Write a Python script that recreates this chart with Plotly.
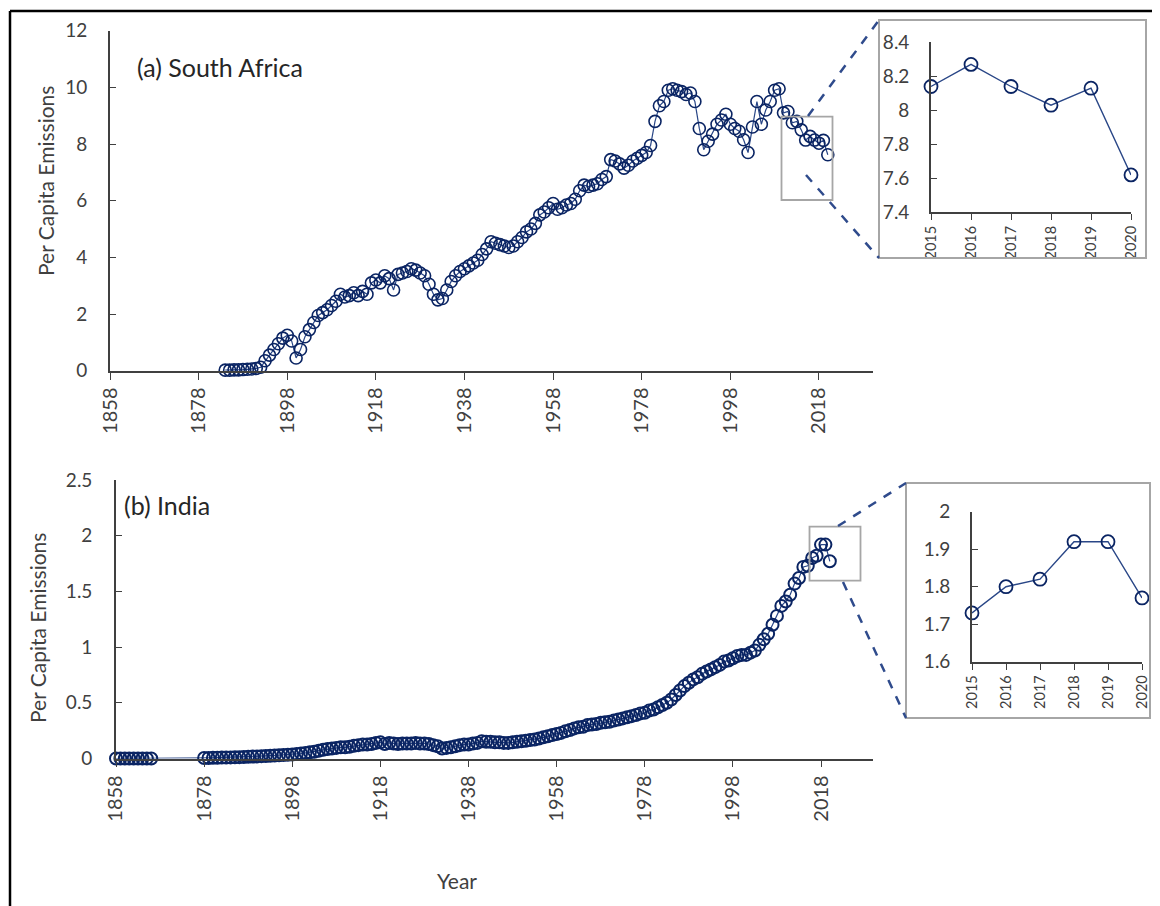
import plotly.graph_objects as go

# ---------------- data ----------------
sa_years = list(range(1884, 2021))
sa_values = [
    0.02, 0.02, 0.03, 0.03, 0.04, 0.05, 0.06, 0.08, 0.12, 0.35,   # 1884-1893
    0.55, 0.75, 0.95, 1.15, 1.25, 1.05, 0.45, 0.75, 1.20, 1.45,   # 1894-1903
    1.70, 1.95, 2.05, 2.15, 2.30, 2.45, 2.70, 2.60, 2.65, 2.75,   # 1904-1913
    2.65, 2.80, 2.70, 3.10, 3.20, 3.10, 3.35, 3.25, 2.85, 3.40,   # 1914-1923
    3.45, 3.50, 3.60, 3.55, 3.45, 3.35, 3.05, 2.70, 2.50, 2.55,   # 1924-1933
    2.85, 3.15, 3.35, 3.50, 3.60, 3.70, 3.80, 3.90, 4.10, 4.30,   # 1934-1943
    4.55, 4.50, 4.45, 4.40, 4.35, 4.40, 4.55, 4.70, 4.90, 5.00,   # 1944-1953
    5.20, 5.50, 5.60, 5.75, 5.90, 5.70, 5.75, 5.85, 5.90, 6.05,   # 1954-1963
    6.35, 6.55, 6.50, 6.55, 6.60, 6.75, 6.85, 7.45, 7.40, 7.30,   # 1964-1973
    7.15, 7.25, 7.40, 7.50, 7.60, 7.70, 7.95, 8.80, 9.35, 9.50,   # 1974-1983
    9.90, 9.95, 9.90, 9.85, 9.75, 9.80, 9.50, 8.55, 7.80, 8.10,   # 1984-1993
    8.35, 8.70, 8.85, 9.05, 8.70, 8.55, 8.45, 8.15, 7.70, 8.60,   # 1994-2003
    9.50, 8.70, 9.20, 9.50, 9.90, 9.95, 9.10, 9.15, 8.75, 8.80,   # 2004-2013
    8.50, 8.14, 8.27, 8.14, 8.03, 8.13, 7.62                      # 2014-2020
]

india_years = list(range(1858, 1867)) + list(range(1878, 2021))
india_values = [
    0.0, 0.0, 0.0, 0.0, 0.0, 0.0, 0.0, 0.0, 0.0,                 # 1858-1866
    0.005, 0.005, 0.006, 0.007, 0.008, 0.009, 0.010, 0.011,       # 1878-1885
    0.012, 0.014, 0.015, 0.017, 0.019, 0.021, 0.023, 0.025,       # 1886-1893
    0.027, 0.029, 0.031, 0.033, 0.036, 0.040, 0.045, 0.050,       # 1894-1901
    0.055, 0.060, 0.070, 0.078, 0.085, 0.090, 0.095, 0.100,       # 1902-1909
    0.100, 0.105, 0.115, 0.120, 0.125, 0.125, 0.130, 0.140,       # 1910-1917
    0.145, 0.130, 0.140, 0.135, 0.130, 0.135, 0.135, 0.135,       # 1918-1925
    0.140, 0.135, 0.135, 0.130, 0.120, 0.110, 0.090, 0.095,       # 1926-1933
    0.100, 0.110, 0.120, 0.125, 0.125, 0.135, 0.140, 0.155,       # 1934-1941
    0.150, 0.150, 0.145, 0.145, 0.140, 0.140, 0.145, 0.150,       # 1942-1949
    0.155, 0.160, 0.165, 0.170, 0.180, 0.190, 0.200, 0.210,       # 1950-1957
    0.220, 0.230, 0.245, 0.255, 0.270, 0.280, 0.285, 0.300,       # 1958-1965
    0.305, 0.310, 0.320, 0.325, 0.330, 0.340, 0.350, 0.360,       # 1966-1973
    0.370, 0.380, 0.390, 0.405, 0.410, 0.430, 0.440, 0.460,       # 1974-1981
    0.480, 0.500, 0.530, 0.570, 0.610, 0.650, 0.680, 0.710,       # 1982-1989
    0.730, 0.760, 0.780, 0.800, 0.820, 0.840, 0.870, 0.880,       # 1990-1997
    0.900, 0.920, 0.930, 0.930, 0.950, 0.970, 1.020, 1.070,       # 1998-2005
    1.120, 1.200, 1.280, 1.370, 1.410, 1.470, 1.570, 1.620,       # 2006-2013
    1.720, 1.730, 1.800, 1.820, 1.920, 1.920, 1.770              # 2014-2020
]

inset_years = [2015, 2016, 2017, 2018, 2019, 2020]
sa_inset_values = [8.14, 8.27, 8.14, 8.03, 8.13, 7.62]
india_inset_values = [1.73, 1.80, 1.82, 1.92, 1.92, 1.77]

main_xticks = list(range(1858, 2019, 20))
sa_yticks = [0, 2, 4, 6, 8, 10, 12]
india_yticks = [0, 0.5, 1, 1.5, 2, 2.5]
india_ytick_text = ["0", "0.5", "1", "1.5", "2", "2.5"]
sa_inset_yticks = [7.4, 7.6, 7.8, 8, 8.2, 8.4]
india_inset_yticks = [1.6, 1.7, 1.8, 1.9, 2]

# ---------------- layout helpers ----------------
# The page body keeps its default 8px margin, so the figure is sized to the
# visible area and window-pixel positions are converted into figure fractions.
OFF = 8
W, H = 1160 - OFF, 906 - OFF
FONT = "Lato"
MARK = "#0A2463"
LINE = "#2A4787"
AX = "#404040"
TXT = "#404040"


def px(x):
    return (x - OFF) / W


def py(y):
    return 1 - (y - OFF) / H


def xdom(a, b):
    return [px(a), px(b)]


def ydom(top, bottom):
    return [py(bottom), py(top)]


fig = go.Figure()

marker_sa = dict(symbol="circle-open", size=12, color=MARK, line=dict(width=1.6, color=MARK))
marker_in = dict(symbol="circle-open", size=12, color=MARK, line=dict(width=2.0, color=MARK))
marker_inset = dict(symbol="circle-open", size=13, color=MARK, line=dict(width=1.8, color=MARK))

fig.add_trace(go.Scatter(x=sa_years, y=sa_values, mode="lines+markers",
                         line=dict(color=LINE, width=1.2), marker=marker_sa,
                         xaxis="x", yaxis="y", cliponaxis=False, showlegend=False))
fig.add_trace(go.Scatter(x=india_years, y=india_values, mode="lines+markers",
                         line=dict(color=LINE, width=1.2), marker=marker_in,
                         xaxis="x2", yaxis="y2", cliponaxis=False, showlegend=False))
fig.add_trace(go.Scatter(x=inset_years, y=sa_inset_values, mode="lines+markers",
                         line=dict(color=LINE, width=1.4), marker=marker_inset,
                         xaxis="x3", yaxis="y3", cliponaxis=False, showlegend=False))
fig.add_trace(go.Scatter(x=inset_years, y=india_inset_values, mode="lines+markers",
                         line=dict(color=LINE, width=1.4), marker=marker_inset,
                         xaxis="x4", yaxis="y4", cliponaxis=False, showlegend=False))


def xaxis_main(dom, rng, anchor):
    return dict(domain=dom, range=rng, anchor=anchor, tickmode="array", tickvals=main_xticks,
                ticktext=[str(v) for v in main_xticks], tickangle=-90, ticks="outside",
                ticklen=7, tickwidth=1.3, tickcolor=AX, showline=True, linecolor=AX,
                linewidth=1.6, showgrid=False, zeroline=False, automargin=False,
                tickfont=dict(family=FONT, size=20, color=TXT))


def xaxis_inset(dom, rng, anchor):
    return dict(domain=dom, range=rng, anchor=anchor, tickmode="array", tickvals=inset_years,
                ticktext=[str(v) for v in inset_years], tickangle=-90, ticks="outside",
                ticklen=6, tickwidth=1.3, tickcolor=AX, showline=True, linecolor=AX,
                linewidth=1.6, showgrid=False, zeroline=False, automargin=False,
                tickfont=dict(family=FONT, size=14.5, color=TXT))


def xaxis_cross(dom, rng, anchor, over, vals, ln):
    return dict(domain=dom, range=rng, anchor=anchor, overlaying=over, side="bottom",
                tickmode="array", tickvals=vals, ticks="inside", ticklen=ln, tickwidth=1.3,
                tickcolor=AX, showticklabels=False, showline=False, showgrid=False,
                zeroline=False, automargin=False)


def yaxis_std(dom, rng, anchor, vals, text, size, standoff):
    return dict(domain=dom, range=rng, anchor=anchor, tickmode="array", tickvals=vals,
                ticktext=text, ticks="inside", ticklen=6, tickwidth=1.3, tickcolor=AX,
                showline=True, linecolor=AX, linewidth=1.6, showgrid=False, zeroline=False,
                ticklabelstandoff=standoff, automargin=False,
                tickfont=dict(family=FONT, size=size, color=TXT))


# panel (a)
xa_dom, xa_rng = xdom(110, 873), [1858, 2030.2]
ya_dom = ydom(30.7, 370.7)
# panel (b)
xb_dom, xb_rng = xdom(116, 873), [1858, 2029.8]
yb_dom = ydom(480, 758.5)
# inset (a)
xc_dom, xc_rng = xdom(931, 1131), [2015, 2020]
yc_dom = ydom(42.3, 212.3)
# inset (b)
xd_dom, xd_rng = xdom(972, 1142), [2015, 2020]
yd_dom = ydom(511.7, 661.7)

fig.update_layout(
    template="none",
    width=W, height=H, autosize=False,
    margin=dict(l=0, r=0, t=0, b=0, pad=0, autoexpand=False),
    paper_bgcolor="white", plot_bgcolor="rgba(0,0,0,0)",
    font=dict(family=FONT, color=TXT),
    showlegend=False,
    xaxis=xaxis_main(xa_dom, xa_rng, "y"),
    yaxis=yaxis_std(ya_dom, [0, 12], "x", sa_yticks, [str(v) for v in sa_yticks], 19, 17),
    xaxis2=xaxis_main(xb_dom, xb_rng, "y2"),
    yaxis2=yaxis_std(yb_dom, [0, 2.5], "x2", india_yticks, india_ytick_text, 19, 18),
    xaxis3=xaxis_inset(xc_dom, xc_rng, "y3"),
    yaxis3=yaxis_std(yc_dom, [7.4, 8.4], "x3", sa_inset_yticks,
                     ["7.4", "7.6", "7.8", "8", "8.2", "8.4"], 19, 16),
    xaxis4=xaxis_inset(xd_dom, xd_rng, "y4"),
    yaxis4=yaxis_std(yd_dom, [1.6, 2.0], "x4", india_inset_yticks,
                     ["1.6", "1.7", "1.8", "1.9", "2"], 19, 16),
    xaxis5=xaxis_cross(xa_dom, xa_rng, "y", "x", main_xticks, 7),
    xaxis6=xaxis_cross(xb_dom, xb_rng, "y2", "x2", main_xticks, 7),
    xaxis7=xaxis_cross(xc_dom, xc_rng, "y3", "x3", inset_years, 6),
    xaxis8=xaxis_cross(xd_dom, xd_rng, "y4", "x4", inset_years, 6),
)

# annotations (titles / panel labels)
ann = [
    dict(text="(a) South Africa", x=px(135), y=py(66.7), xanchor="left", yanchor="middle",
         font=dict(family=FONT, size=25, color="#262626")),
    dict(text="(b) India", x=px(122), y=py(505), xanchor="left", yanchor="middle",
         font=dict(family=FONT, size=25, color="#262626")),
    dict(text="Per Capita Emissions", x=px(45), y=py(181), textangle=-90,
         xanchor="center", yanchor="middle", font=dict(family=FONT, size=21, color=TXT)),
    dict(text="Per Capita Emissions", x=px(37), y=py(628), textangle=-90,
         xanchor="center", yanchor="middle", font=dict(family=FONT, size=21, color=TXT)),
    dict(text="Year", x=px(457), y=py(880), xanchor="center", yanchor="middle",
         font=dict(family=FONT, size=21, color=TXT)),
]
for a in ann:
    a.update(xref="paper", yref="paper", showarrow=False)
fig.update_layout(annotations=ann)

GREY = "#A6A6A6"
DASH = "#2F4B8C"
shapes = [
    # outer frame (top & left)
    dict(type="line", x0=px(10), x1=px(1160), y0=py(11), y1=py(11), line=dict(color="black", width=2.5)),
    dict(type="line", x0=px(10), x1=px(10), y0=py(11), y1=py(906), line=dict(color="black", width=2.5)),
    # inset boxes
    dict(type="rect", x0=px(879), x1=px(1146), y0=py(258), y1=py(20), line=dict(color=GREY, width=2)),
    dict(type="rect", x0=px(906), x1=px(1150), y0=py(718), y1=py(483), line=dict(color=GREY, width=2)),
    # zoom boxes in main panels
    dict(type="rect", x0=px(781.5), x1=px(832.5), y0=py(200), y1=py(116.7), line=dict(color=GREY, width=1.8)),
    dict(type="rect", x0=px(809.5), x1=px(860.5), y0=py(580.7), y1=py(526.7), line=dict(color=GREY, width=1.8)),
    # dashed connectors
    dict(type="line", x0=px(808), y0=py(116), x1=px(879), y1=py(20), line=dict(color=DASH, width=2.5, dash="dash")),
    dict(type="line", x0=px(806), y0=py(175), x1=px(879), y1=py(258), line=dict(color=DASH, width=2.5, dash="dash")),
    dict(type="line", x0=px(838), y0=py(526), x1=px(906), y1=py(483), line=dict(color=DASH, width=2.5, dash="dash")),
    dict(type="line", x0=px(843), y0=py(582), x1=px(906), y1=py(718), line=dict(color=DASH, width=2.5, dash="dash")),
]
for s in shapes:
    s.update(xref="paper", yref="paper")
fig.update_layout(shapes=shapes)

fig.write_html("out.html")
